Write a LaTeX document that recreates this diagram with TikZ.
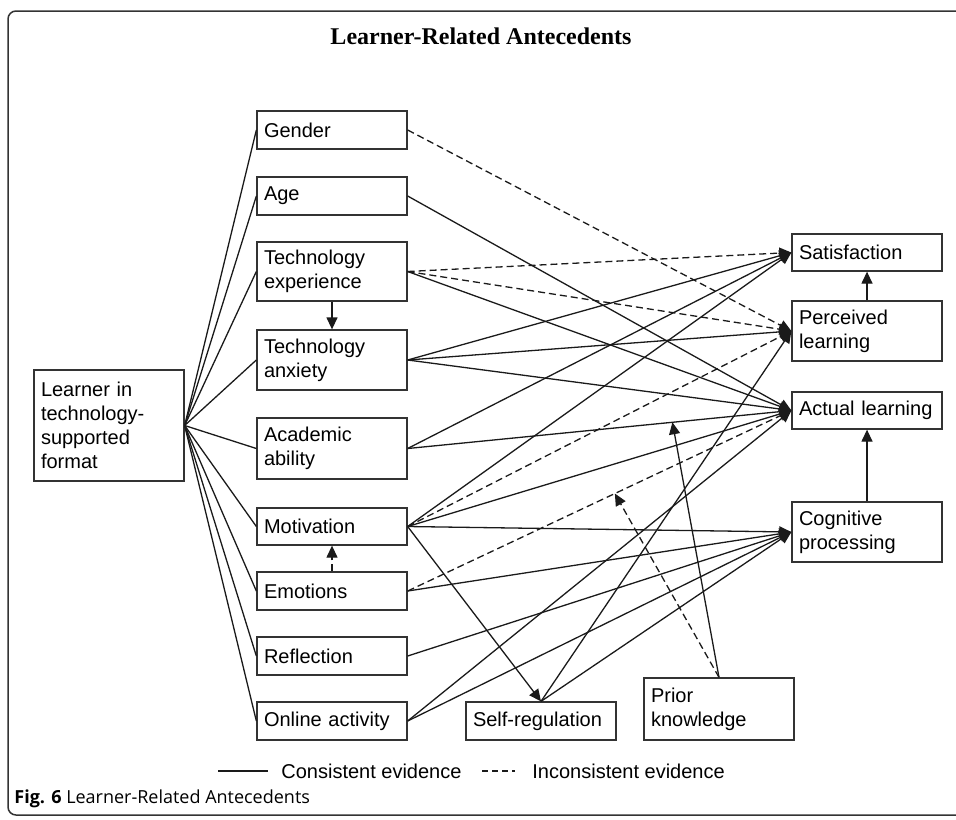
\documentclass[tikz,border=0pt]{standalone}
\usepackage{fontspec}
\setmainfont{Liberation Sans}
\newfontfamily\titlefont{Liberation Serif}
\newfontfamily\capfont{Open Sans}
\usetikzlibrary{arrows.meta,calc}
\definecolor{linecol}{HTML}{1A1A1A}
\definecolor{boxcol}{HTML}{333333}
\hyphenpenalty=10000
\exhyphenpenalty=10000
\begin{document}
\begin{tikzpicture}[x=0.5pt,y=-0.5pt,
  box/.style={draw=boxcol, line width=0.65pt, inner xsep=3.5pt, inner ysep=0pt,
    text width=68pt, align=left, minimum height=19pt,
    font=\fontsize{10}{12}\selectfont},
  tall/.style={box, minimum height=30pt},
  plainline/.style={draw=linecol, line width=0.65pt},
  evid/.style={plainline, -{Triangle[length=6pt,width=5.5pt]}},
  incons/.style={evid, dash pattern=on 3.5pt off 2pt},
  incline/.style={plainline, dash pattern=on 3pt off 2pt},
  lbl/.style={inner sep=0pt, font=\fontsize{10}{12}\selectfont}
]
\useasboundingbox (0,0) rectangle (956,819);
\clip (0,0) rectangle (956,819);
% frame
\draw[draw=boxcol, line width=0.75pt, rounded corners=4pt] (8,11) rectangle (990,815);
% title
\node[anchor=base, inner sep=0pt, font=\titlefont\bfseries\fontsize{12}{14}\selectfont] (title) at (481,44) {Learner-Related Antecedents};

% boxes
\node[box, minimum height=55.5pt] (learner) at (109,425.5) {Learner in\\technology-\\supported\\format};
\node[box] (gender) at (332,130) {Gender};
\node[box] (age) at (332,196) {Age};
\node[tall, minimum height=29.5pt] (texp) at (332,271.5) {Technology\\experience};
\node[tall] (tanx) at (332,360) {Technology\\anxiety};
\node[tall, minimum height=30.5pt] (acad) at (332,448.5) {Academic\\ability};
\node[box, minimum height=18.5pt] (motiv) at (332,526.5) {Motivation};
\node[box] (emot) at (332,591) {Emotions};
\node[box] (refl) at (332,656) {Reflection};
\node[box] (online) at (332,721) {Online activity};
\node[box] (selfreg) at (541,721) {Self-regulation};
\node[tall, minimum height=31pt] (prior) at (719,709) {Prior\\knowledge};
\node[box, minimum height=18.5pt] (satis) at (867,252.5) {Satisfaction};
\node[tall] (perc) at (867,331) {Perceived\\learning};
\node[box, minimum height=18.5pt] (actual) at (867,410.5) {Actual learning};
\node[tall] (cogn) at (867,532) {Cognitive\\processing};

% fan from learner
\foreach \t in {gender,age,texp,tanx,acad,motiv,emot,refl,online}
  \draw[plainline] (learner.east) -- (\t.west);

% vertical arrows
\draw[evid] (texp.south) -- (tanx.north);
\draw[incons] (emot.north) -- (motiv.south);
\draw[evid] (perc.north) -- (satis.south);
\draw[evid] (cogn.north) -- (actual.south);

% inconsistent evidence
\draw[incons] (gender.east) -- (perc.west);
\draw[incons] (texp.east) -- (satis.west);
\draw[incons] (texp.east) -- (perc.west);
\draw[incons] (motiv.east) -- (perc.west);
\draw[incons] (emot.east) -- (actual.west);

% consistent evidence
\draw[evid] (age.east) -- (actual.west);
\draw[evid] (texp.east) -- (actual.west);
\draw[evid] (tanx.east) -- (satis.west);
\draw[evid] (tanx.east) -- (perc.west);
\draw[evid] (tanx.east) -- (actual.west);
\draw[evid] (acad.east) -- (satis.west);
\draw[evid] (acad.east) -- (actual.west);
\draw[evid] (motiv.east) -- (satis.west);
\draw[evid] (motiv.east) -- (actual.west);
\draw[evid] (motiv.east) -- (cogn.west);
\draw[evid] (motiv.east) -- (selfreg.north);
\draw[evid] (emot.east) -- (cogn.west);
\draw[evid] (refl.east) -- (cogn.west);
\draw[evid] (online.east) -- (actual.west);
\draw[evid] (online.east) -- (cogn.west);
\draw[evid] (selfreg.north) -- (perc.west);
\draw[evid] (selfreg.north) -- (cogn.west);

% moderation by prior knowledge
\path (acad.east) -- (actual.west) coordinate[pos=0.69] (modA);
\path (emot.east) -- (actual.west) coordinate[pos=0.54] (modB);
\draw[evid] (prior.north) -- (modA);
\draw[incons] (prior.north) -- (modB);

% legend
\coordinate (la1) at (218,771);
\coordinate (la2) at (268,771);
\coordinate (lb1) at (482,771);
\coordinate (lb2) at (515,771);
\draw[plainline] (la1) -- (la2);
\draw[incline] (lb1) -- (lb2);
\node[lbl, anchor=west] (lta) at (281,771) {Consistent evidence};
\node[lbl, anchor=west] (ltb) at (532,771) {Inconsistent evidence};

% caption
\node[anchor=base west, inner sep=0pt, font=\capfont\fontsize{9}{11}\selectfont] (cap) at (14,803) {\textbf{Fig. 6} Learner-Related Antecedents};
\end{tikzpicture}
\end{document}
